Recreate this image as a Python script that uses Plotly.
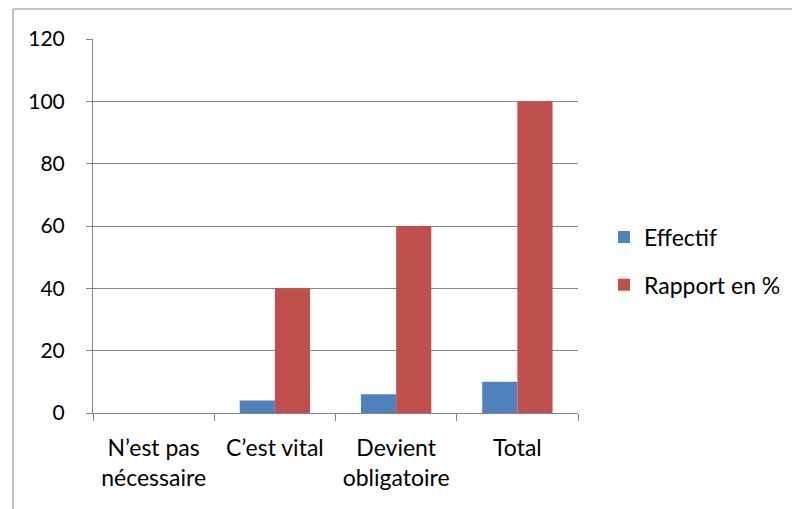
import plotly.graph_objects as go

categories = ["N’est pas<br>nécessaire", "C’est vital", "Devient<br>obligatoire", "Total"]
effectif = [0, 4, 6, 10]
rapport = [0, 40, 60, 100]
y_ticks = [0, 20, 40, 60, 80, 100, 120]

# page coordinates (the page body adds an 8px margin)
OFF = 8
W, H = 800 - OFF, 509 - OFF
L, R, T, B = 93, 578, 39, 413
FONT = "Lato, Open Sans, sans-serif"
FS = 23
FS_Y = 21

fig = go.Figure()
fig.add_trace(go.Bar(x=categories, y=effectif, name="Effectif",
                     marker=dict(color="#4F81BD", line=dict(width=0)), legendgroup="a"))
fig.add_trace(go.Bar(x=categories, y=rapport, name="Rapport en %",
                     marker=dict(color="#C0504D", line=dict(width=0)), legendgroup="b"))

def px_x(p):
    return (p - L) / (R - L)

def px_y(p):
    return (B - p) / (B - T)

fig.add_shape(type="rect", xref="paper", yref="paper",
              x0=px_x(13), x1=px_x(830), y0=px_y(9), y1=px_y(540),
              line=dict(color="#868686", width=1), fillcolor="rgba(0,0,0,0)", layer="below")

fig.update_layout(
    width=W, height=H,
    margin=dict(l=L - OFF, r=800 - R, t=T - OFF, b=509 - B),
    paper_bgcolor="white", plot_bgcolor="white",
    barmode="group", bargap=0.42, bargroupgap=0,
    font=dict(family=FONT, size=FS, color="black"),
    showlegend=True,
    legend=dict(x=px_x(604), y=px_y(261), xanchor="left", yanchor="middle",
                traceorder="grouped", tracegroupgap=15,
                font=dict(family=FONT, size=FS, color="black"),
                itemwidth=30, bgcolor="rgba(0,0,0,0)"),
    xaxis=dict(showline=True, linecolor="#868686", linewidth=1,
               ticks="outside", tickson="boundaries", ticklen=7, tickcolor="#868686",
               showgrid=False, tickfont=dict(size=FS), ticklabelstandoff=14),
    yaxis=dict(range=[0, 120], tickvals=y_ticks, showline=True, linecolor="#868686", linewidth=1,
               ticks="outside", ticklen=6, tickcolor="#868686",
               showgrid=True, gridcolor="#868686", gridwidth=1, zeroline=False,
               tickfont=dict(size=FS_Y), ticklabelstandoff=17),
)

fig.write_html("out.html")
